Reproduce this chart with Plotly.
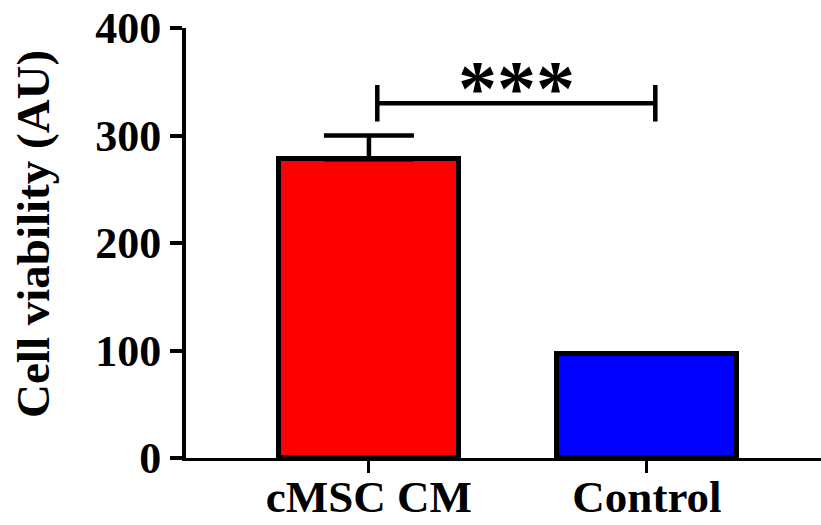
import plotly.graph_objects as go

# Cell viability per group (arbitrary units), mean and SEM
categories = ["cMSC CM", "Control"]
means = [278, 97]
sems = [22, 0]
colors = ["#FF0000", "#0000FF"]
y_ticks = [0, 100, 200, 300, 400]
significance = "***"
bracket_y = 330
bracket_tick = 17

FONT = "Liberation Serif, Times New Roman, serif"

fig = go.Figure()

for i, (cat, m, s, c) in enumerate(zip(categories, means, sems, colors)):
    err = None
    if s > 0:
        err = dict(type="data", symmetric=False, array=[s], arrayminus=[0],
                   color="black", thickness=4.5, width=45)
    fig.add_trace(go.Bar(
        x=[i], y=[m], width=0.645,
        marker=dict(color=c, line=dict(color="black", width=5)),
        error_y=err, showlegend=False, name=cat,
    ))

# Significance bracket between the two groups
x0, x1 = 0.03, 1.03
line_style = dict(color="black", width=4.5)
fig.add_shape(type="line", xref="x", yref="y", x0=x0, x1=x1,
              y0=bracket_y, y1=bracket_y, line=line_style)
for xe in (x0, x1):
    fig.add_shape(type="line", xref="x", yref="y", x0=xe, x1=xe,
                  y0=bracket_y - bracket_tick, y1=bracket_y + bracket_tick,
                  line=line_style)
fig.add_annotation(x=(x0 + x1) / 2, y=bracket_y, xref="x", yref="y",
                   text=f"<b>{significance}</b>", showarrow=False,
                   yanchor="bottom", yshift=-30,
                   font=dict(family=FONT, size=78, color="black"))

# Y-axis title
fig.add_annotation(x=-0.241, y=0.521, xref="paper", yref="paper",
                   text="<b>Cell viability (AU)</b>", textangle=-90,
                   showarrow=False, xanchor="center", yanchor="middle",
                   font=dict(family=FONT, size=47, color="black"))

fig.update_layout(
    width=821, height=525,
    margin=dict(l=186, r=0, t=28, b=67, autoexpand=False),
    paper_bgcolor="white", plot_bgcolor="white",
    font=dict(family=FONT, color="black"),
    bargap=0,
)
fig.update_xaxes(
    range=[-0.658, 1.626], tickmode="array",
    tickvals=list(range(len(categories))),
    ticktext=[f"<b>{c}</b>" for c in categories],
    tickfont=dict(family=FONT, size=45, color="black"),
    showline=True, linecolor="black", linewidth=3,
    ticks="outside", ticklen=12, tickwidth=3, tickcolor="black",
    ticklabelstandoff=-15,
    showgrid=False, zeroline=False, automargin=False,
)
fig.update_yaxes(
    range=[0, 400], tickmode="array", tickvals=y_ticks,
    ticktext=[f"<b>{v}</b>" for v in y_ticks],
    tickfont=dict(family=FONT, size=44, color="black"),
    showline=True, linecolor="black", linewidth=4,
    ticks="outside", ticklen=12, tickwidth=4, tickcolor="black",
    showgrid=False, zeroline=False, automargin=False,
)

fig.write_html("out.html")
